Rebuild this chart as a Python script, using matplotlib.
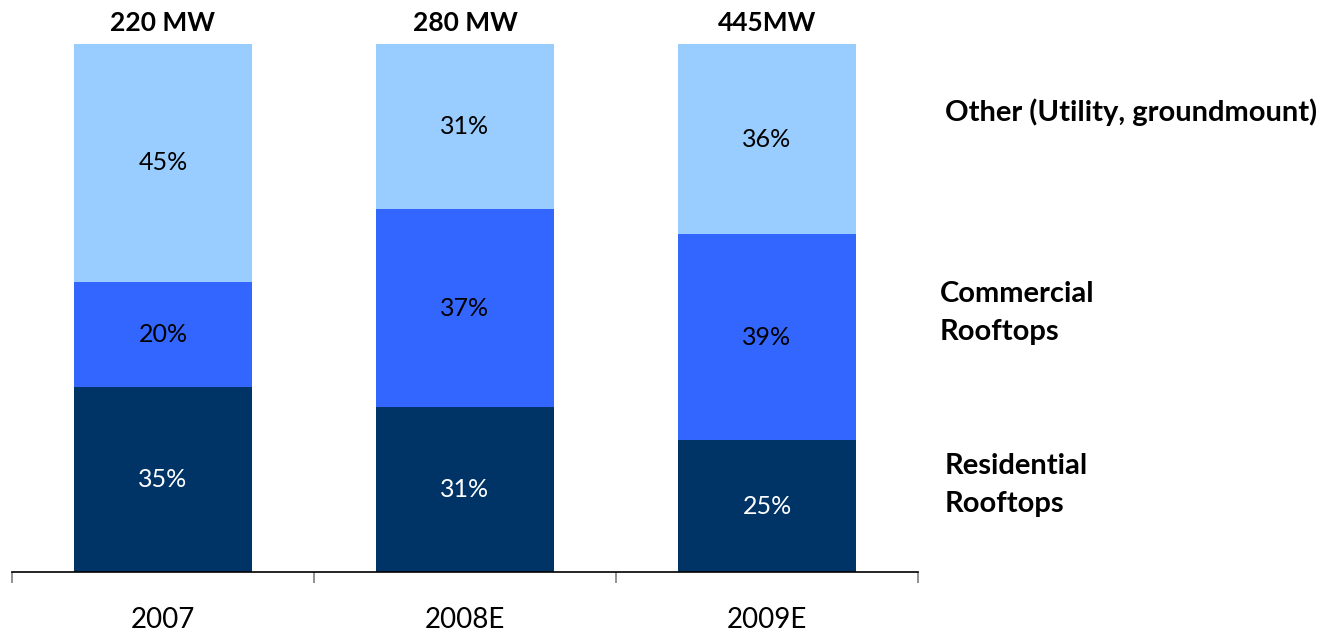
import numpy as np
import matplotlib.pyplot as plt

years = ["2007", "2008E", "2009E"]
totals = ["220 MW", "280 MW", "445MW"]
residential = [35, 31, 25]
commercial = [20, 37, 39]
other = [45, 31, 36]

segments = [
    ("Residential\nRooftops", residential, "#003366", "white"),
    ("Commercial\nRooftops", commercial, "#3366FF", "black"),
    ("Other (Utility, groundmount)", other, "#99CCFF", "black"),
]

plt.rcParams["font.family"] = ["Lato", "DejaVu Sans"]

fig = plt.figure(figsize=(13.34, 6.37), dpi=100)
ax = fig.add_axes([12 / 1334, 65 / 637, 906 / 1334, 528 / 637])

x = np.arange(len(years))
sums = np.array(residential) + np.array(commercial) + np.array(other)
bottom = np.zeros(len(years))
for name, vals, color, txt in segments:
    share = np.array(vals) / sums
    ax.bar(x, share, width=0.59, bottom=bottom, color=color, linewidth=0)
    for xi, b, s, v in zip(x, bottom, share, vals):
        ax.text(xi, b + s / 2, f"{v}%", ha="center", va="center",
                color=txt, fontsize=18)
    bottom += share

for xi, t in zip(x, totals):
    ax.text(xi, 1.0 + 0.04, t, ha="center", va="center",
            fontsize=19, fontweight="bold", clip_on=False)

# series names on the right side
fig.text(945 / 1334, 1 - 112 / 637, "Other (Utility, groundmount)",
         ha="left", va="center", fontsize=21, fontweight="bold")
fig.text(940 / 1334, 1 - 313 / 637, "Commercial\nRooftops",
         ha="left", va="center", fontsize=21, fontweight="bold", linespacing=1.55)
fig.text(945 / 1334, 1 - 485 / 637, "Residential\nRooftops",
         ha="left", va="center", fontsize=21, fontweight="bold", linespacing=1.55)

ax.set_xlim(-0.5, len(years) - 0.5)
ax.set_ylim(0, 1)
for side in ["top", "right", "left"]:
    ax.spines[side].set_visible(False)
ax.spines["bottom"].set_color("black")
ax.spines["bottom"].set_linewidth(1.2)
ax.set_yticks([])
ax.set_xticks(np.arange(-0.5, len(years), 1.0))
ax.set_xticklabels([])
ax.set_xticks(x, minor=True)
ax.set_xticklabels(years, minor=True, fontsize=20)
ax.tick_params(axis="x", which="major", length=8, width=1.2, color="#808080")
ax.tick_params(axis="x", which="minor", length=0, pad=25)

fig.savefig("out.png", dpi=100)
